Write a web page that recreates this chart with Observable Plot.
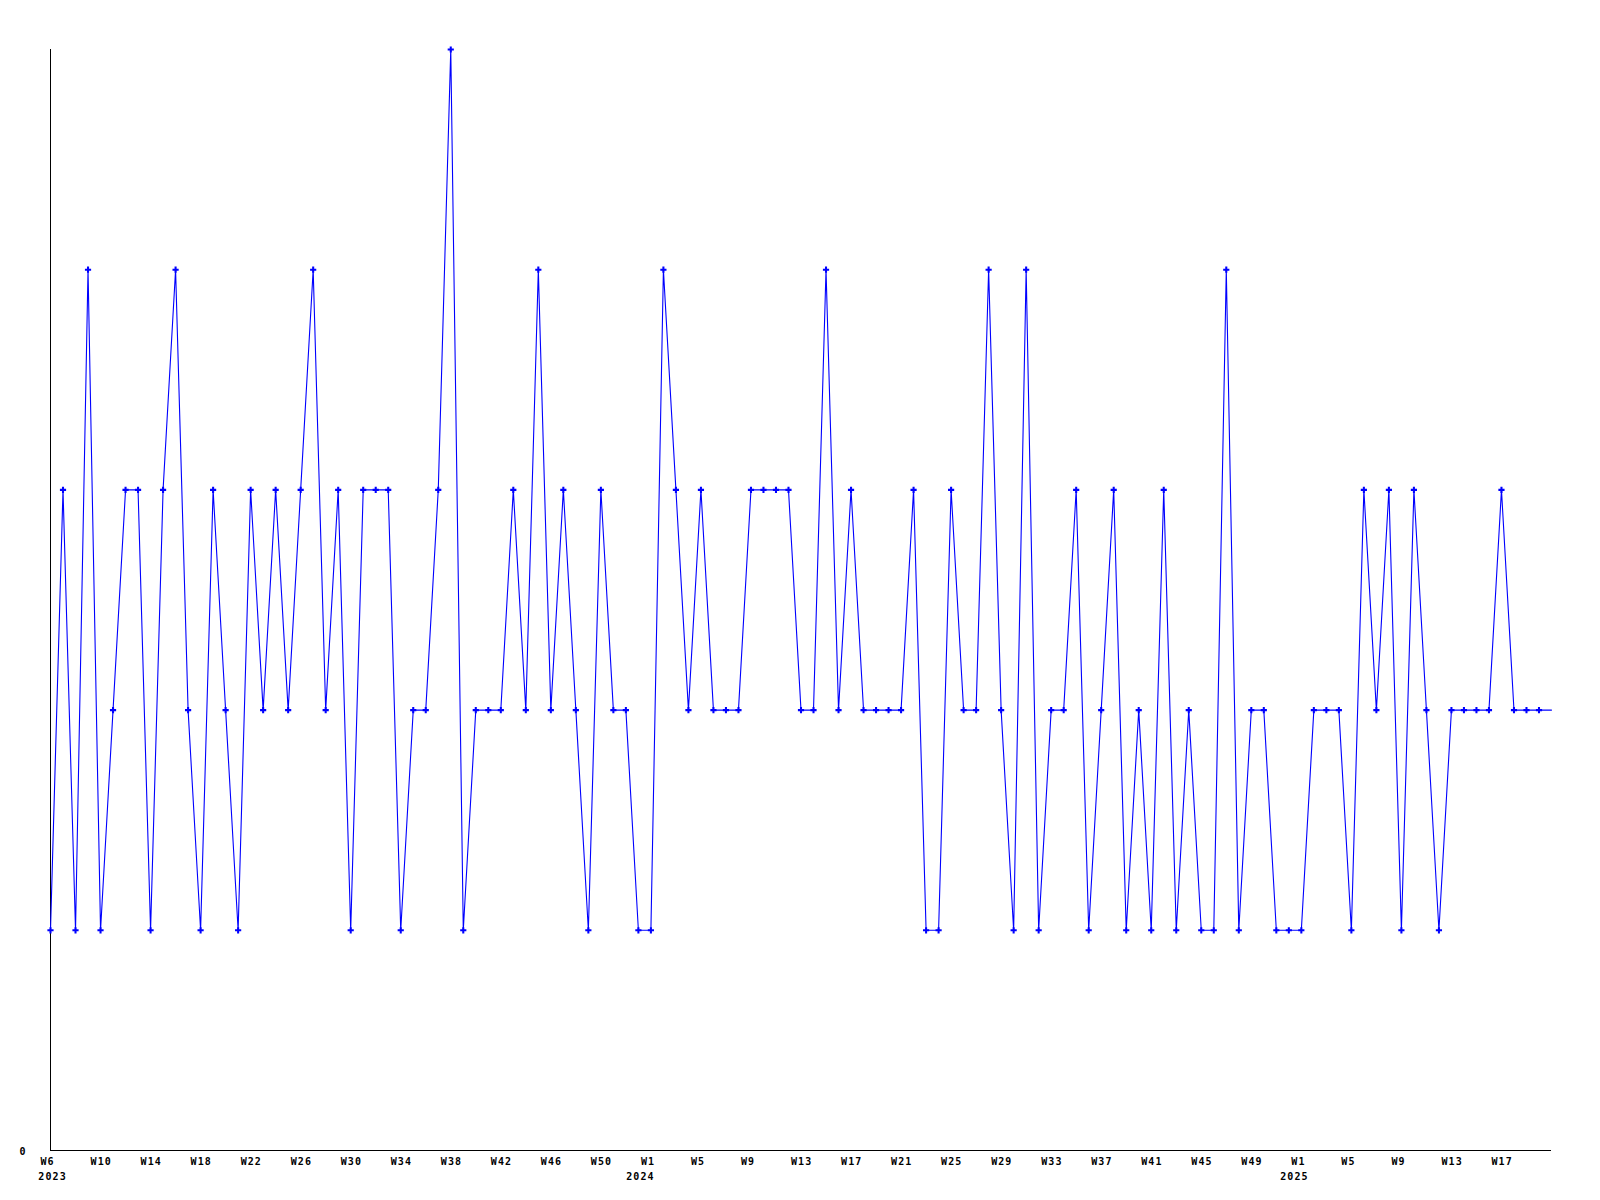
<!DOCTYPE html>
<html>
<head>
<meta charset="utf-8">
<script src="https://cdn.jsdelivr.net/npm/d3@7"></script>
<script src="https://cdn.jsdelivr.net/npm/@observablehq/plot@0.6"></script>
<style>
  body { margin: 0; background: #fff; }
</style>
</head>
<body>
<div id="chart"></div>
<script>
// First week of the series: ISO 2023-W06 (Monday)
const startWeek = "2023-02-06";

// Weekly values (last value = partial current week, no marker)
const values = [
  1,3,1,4,1,2,3,3,1,3,
  4,2,1,3,2,1,3,2,3,2,
  3,4,2,3,1,3,3,3,1,2,
  2,3,5,1,2,2,2,3,2,4,
  2,3,2,1,3,2,2,1,1,4,
  3,2,3,2,2,2,3,3,3,3,
  2,2,4,2,3,2,2,2,2,3,
  1,1,3,2,2,4,2,1,4,1,
  2,2,3,1,2,3,1,2,1,3,
  1,2,1,1,4,1,2,2,1,1,
  1,2,2,2,1,3,2,3,1,3,
  2,1,2,2,2,2,3,2,2,2,
  2
];

// Tick labels, one every 4 weeks starting with the first week
const tickLabels = [
  "W6","W10","W14","W18","W22","W26","W30","W34","W38","W42","W46","W50",
  "W1","W5","W9","W13","W17","W21","W25","W29","W33","W37","W41","W45","W49",
  "W1","W5","W9","W13","W17"
];

// Year labels and where they sit
const yearLabels = ["2023", "2024", "2025"];
const yearDates = ["2023-02-06", "2024-01-01", "2025-01-01"];

const start = new Date(startWeek + "T00:00:00Z");
const data = values.map((v, i) => ({ date: d3.utcMonday.offset(start, i), value: v }));
const markerData = data.slice(0, -1);
const ticks = tickLabels.map((label, i) => ({ date: d3.utcMonday.offset(start, 4 * i), label }));
const years = yearLabels.map((label, i) => ({ date: new Date(yearDates[i] + "T00:00:00Z"), label }));

const chart = Plot.plot({
  width: 1600,
  height: 1200,
  marginTop: 49,
  marginBottom: 50,
  marginLeft: 50,
  marginRight: 49,
  x: { type: "utc", domain: [data[0].date, data[data.length - 1].date], axis: null },
  y: { domain: [0, 5], axis: null },
  style: {
    fontFamily: "'DejaVu Sans Mono', monospace",
    fontWeight: "bold",
    fontSize: "10px",
    letterSpacing: "1.1px",
    background: "white",
    color: "black"
  },
  marks: [
    Plot.ruleY([0], { stroke: "black", strokeWidth: 1 }),
    Plot.ruleX([data[0].date], { y1: 0, y2: 5, stroke: "black", strokeWidth: 1 }),
    Plot.line(data, { x: "date", y: "value", stroke: "#0000ff", strokeWidth: 1.1 }),
    Plot.dot(markerData, { x: "date", y: "value", symbol: "cross", r: 2.6, fill: "#0000ff", stroke: null }),
    Plot.text(ticks, { x: "date", text: "label", frameAnchor: "bottom", dy: 14.5, dx: -10, textAnchor: "start", fill: "black" }),
    Plot.text(years, { x: "date", text: "label", frameAnchor: "bottom", dy: 29, dx: 2, textAnchor: "middle", fill: "black" }),
    Plot.text([0], { y: d => d, text: d => String(d), frameAnchor: "left", dx: -24, dy: 1, textAnchor: "end", fill: "black" })
  ]
});

document.getElementById("chart").appendChild(chart);
</script>
</body>
</html>
